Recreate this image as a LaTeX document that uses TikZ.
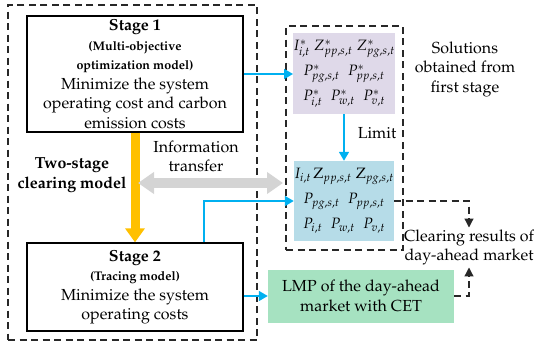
\documentclass[tikz,border=0pt]{standalone}
\usepackage[T1]{fontenc}
\usepackage{mathpazo}
\usetikzlibrary{arrows.meta,calc}
\definecolor{cblue}{RGB}{0,176,240}
\definecolor{corange}{RGB}{255,192,0}
\definecolor{cgray}{RGB}{212,212,212}
\definecolor{cpurple}{RGB}{223,217,233}
\definecolor{clightblue}{RGB}{182,220,232}
\definecolor{cgreen}{RGB}{166,226,193}
\definecolor{cdash}{RGB}{40,40,40}
\begin{document}
\begin{tikzpicture}[x=1pt,y=-1pt,
  txt/.style={font=\fontsize{16}{19.5}\selectfont, align=center, inner sep=0pt},
  stagebox/.style={draw=black, line width=1.3pt, minimum width=216pt, align=center, inner sep=0pt, font=\fontsize{16}{19.5}\selectfont},
  dashbox/.style={draw=cdash, line width=1.2pt, dash pattern=on 7pt off 4.5pt, inner sep=0pt},
  solbox/.style={minimum width=100pt, minimum height=80pt, inner sep=0pt, font=\fontsize{15}{25}\selectfont, align=center},
  bluearrow/.style={draw=cblue, line width=1.6pt, -{Triangle[length=9pt,width=10pt]}},
  dasharrow/.style={draw=cdash, line width=1.2pt, dash pattern=on 7pt off 4.5pt, -{Triangle[length=9pt,width=9pt]}}
]
\useasboundingbox (0,0) rectangle (550,351);

% outer dashed boxes
\node[dashbox, minimum width=249pt, minimum height=335pt] (outerL) at (132.5,172.5) {};
\node[dashbox, minimum width=117pt, minimum height=224pt] (outerR) at (344.5,138) {};

% stage boxes
\node[stagebox, minimum height=116pt] (stage1) at (135,74)
  {{\fontsize{16}{19.5}\selectfont\bfseries Stage 1}\\
   {\fontsize{12.5}{19.5}\selectfont\bfseries (Multi-objective}\\
   {\fontsize{12.5}{19.5}\selectfont\bfseries optimization model)}\\
   Minimize the system\\ operating cost and carbon\\ emission costs};
\node[stagebox, minimum height=88pt] (stage2) at (135,287)
  {{\fontsize{16}{19.5}\selectfont\bfseries Stage 2}\\
   {\fontsize{12.5}{19.5}\selectfont\bfseries (Tracing model)}\\
   Minimize the system\\ operating costs};

% solution boxes
\node[solbox, fill=cpurple, minimum height=81pt] (sol1) at (344,73.5)
  {$I^{*}_{i,t}\; Z^{*}_{pp,s,t}\; Z^{*}_{pg,s,t}$\\
   $P^{*}_{pg,s,t}\;\; P^{*}_{pp,s,t}$\\
   $P^{*}_{i,t}\;\; P^{*}_{w,t}\;\; P^{*}_{v,t}$};
\node[solbox, fill=clightblue] (sol2) at (344,201)
  {$I_{i,t}\, \mathrm{Z}_{pp,s,t}\; \mathrm{Z}_{pg,s,t}$\\
   $P_{pg,s,t}\;\; P_{pp,s,t}$\\
   $P_{i,t}\;\; P_{w,t}\;\; P_{v,t}$};

% green box
\node[txt, fill=cgreen, minimum width=186pt, minimum height=53pt] (lmp) at (361,296)
  {LMP of the day-ahead\\ market with CET};

% labels
\node[txt] (soltxt) at (465,69) {Solutions\\ obtained from\\ first stage};
\node[txt] (clear) at (469,247.5) {Clearing results of\\ day-ahead market};
\node[txt] (info) at (196,156.5) {Information\\ transfer};
\node[txt, font=\fontsize{16}{19.5}\selectfont\bfseries] (twostage) at (72,175) {Two-stage\\ clearing model};
\node[txt] (limit) at (377,133) {Limit};

% orange arrow
\draw[corange, line width=9pt, -{Triangle[length=14pt,width=19pt]}] (stage1.south) -- (stage2.north);

% gray double arrow
\coordinate (gl) at (138,183);
\coordinate (gr) at (283,183);
\draw[cgray, line width=10pt, {Triangle[length=16pt,width=21pt]}-{Triangle[length=16pt,width=21pt]}] (gl) -- (gr);

% blue arrows
\draw[bluearrow] (stage1.east) -- (stage1.east -| sol1.west);
\draw[bluearrow] (sol1.south) -- (sol2.north);
\coordinate (s2up) at ($(stage2.north)+(69,0)$);
\draw[bluearrow] (s2up) |- (sol2.west);
\draw[bluearrow] (stage2.east |- lmp.west) -- (lmp.west);

% dashed arrows
\draw[dasharrow] (sol2.east) -| ($(clear.north)+(0,-2)$);
\draw[dasharrow] (lmp.east) -| ($(clear.south)+(0,2)$);
\end{tikzpicture}
\end{document}
